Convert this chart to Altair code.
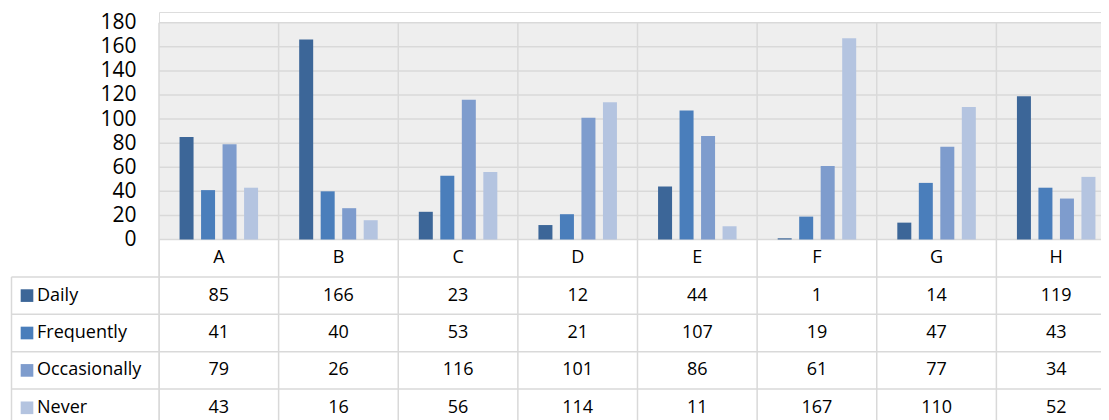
import altair as alt
import pandas as pd

# ---- data ----
categories = ["A", "B", "C", "D", "E", "F", "G", "H"]
series = ["Daily", "Frequently", "Occasionally", "Never"]
daily = [85, 166, 23, 12, 44, 1, 14, 119]
frequently = [41, 40, 53, 21, 107, 19, 47, 43]
occasionally = [79, 26, 116, 101, 86, 61, 77, 34]
never = [43, 16, 56, 114, 11, 167, 110, 52]
y_ticks = [0, 20, 40, 60, 80, 100, 120, 140, 160, 180]
colors = ["#3C6698", "#4A7EBB", "#7E9CCD", "#B4C4E0"]

values = {"Daily": daily, "Frequently": frequently,
          "Occasionally": occasionally, "Never": never}
long_df = pd.DataFrame([
    {"cat": c, "series": s, "value": values[s][i], "row": s}
    for s in series for i, c in enumerate(categories)
])
cat_df = pd.DataFrame({"cat": categories})
tick_df = pd.DataFrame({"tick": y_ticks})
rows = ["hdr"] + series
row_df = pd.DataFrame({"row": rows})
label_df = pd.DataFrame({"row": series, "series": series})

# ---- layout helpers ----
FONT = "Open Sans"
GRID = "#d9d9d9"
TOP = 10.7
BASE = 227.5
x_scale = alt.Scale(domain=categories, range=[0, 957], paddingInner=0, paddingOuter=0)
y_val_scale = alt.Scale(domain=[0, 180], range=[BASE, TOP], nice=False, zero=True)
row_scale = alt.Scale(domain=rows, range=[BASE, BASE + 187], paddingInner=0, paddingOuter=0)
color_scale = alt.Scale(domain=series, range=colors)

background = alt.Chart(cat_df).mark_rect(fill="#eeeeee", strokeWidth=0).encode(
    x=alt.X("cat:N", scale=x_scale, axis=None),
    y=alt.YDatum(0, scale=y_val_scale, axis=None),
    y2=alt.Y2Datum(180),
)

hgrid = alt.Chart(tick_df).mark_rule(color=GRID, strokeWidth=1.5).encode(
    y=alt.Y("tick:Q", scale=y_val_scale,
            axis=alt.Axis(values=y_ticks, labelFont=FONT, labelFontSize=21,
                          labelColor="#000", domain=False, ticks=False, grid=False,
                          labelPadding=23, labelOverlap=False, title=None)),
    x=alt.value(0),
    x2=alt.value(957),
)

vgrid = alt.Chart(cat_df).mark_rule(color=GRID, strokeWidth=1.5).encode(
    x=alt.X("cat:N", scale=x_scale, bandPosition=0, axis=None),
    y=alt.value(TOP),
    y2=alt.value(BASE + 187),
)

bars = alt.Chart(long_df).mark_bar().encode(
    x=alt.X("cat:N", scale=x_scale, axis=None),
    xOffset=alt.XOffset("series:N", scale=alt.Scale(domain=series, paddingInner=0.349, paddingOuter=0.956)),
    y=alt.Y("value:Q", scale=y_val_scale, axis=None),
    y2=alt.Y2Datum(0),
    color=alt.Color("series:N", scale=color_scale, legend=None),
)

row_lines = alt.Chart(row_df).mark_rule(color=GRID, strokeWidth=1.5).encode(
    y=alt.Y("row:N", scale=row_scale, bandPosition=1, axis=None),
    x=alt.value(-147.5),
    x2=alt.value(957),
)

left_border = alt.Chart(row_df.head(1)).mark_rule(color=GRID, strokeWidth=1.5).encode(
    x=alt.value(-147.5),
    y=alt.value(BASE + 37.4),
    y2=alt.value(BASE + 187),
)

header = alt.Chart(cat_df.assign(row="hdr")).mark_text(
    font=FONT, fontSize=18, color="#000", baseline="middle").encode(
    x=alt.X("cat:N", scale=x_scale, axis=None),
    y=alt.Y("row:N", scale=row_scale, axis=None),
    text="cat:N",
)

cells = alt.Chart(long_df).mark_text(
    font=FONT, fontSize=18, color="#000", baseline="middle").encode(
    x=alt.X("cat:N", scale=x_scale, axis=None),
    y=alt.Y("row:N", scale=row_scale, axis=None),
    text="value:Q",
)

squares = alt.Chart(label_df).mark_square(size=160, opacity=1, filled=True).encode(
    x=alt.value(-132),
    y=alt.Y("row:N", scale=row_scale, axis=None),
    color=alt.Color("series:N", scale=color_scale, legend=None),
)

labels = alt.Chart(label_df).mark_text(
    font=FONT, fontSize=18, color="#000", align="left", baseline="middle").encode(
    x=alt.value(-122),
    y=alt.Y("row:N", scale=row_scale, axis=None),
    text="row:N",
)

chart = alt.layer(
    background, hgrid, vgrid, bars, row_lines, left_border, header, cells, squares, labels
).resolve_scale(y="independent").properties(
    width=942, height=408,
    autosize=alt.AutoSizeParams(type="none"),
    padding={"left": 151, "top": 4, "right": 0, "bottom": 0},
).configure_view(stroke=None).configure(background="white")

chart.save("out.html", embed_options={"renderer": "svg", "actions": False})
